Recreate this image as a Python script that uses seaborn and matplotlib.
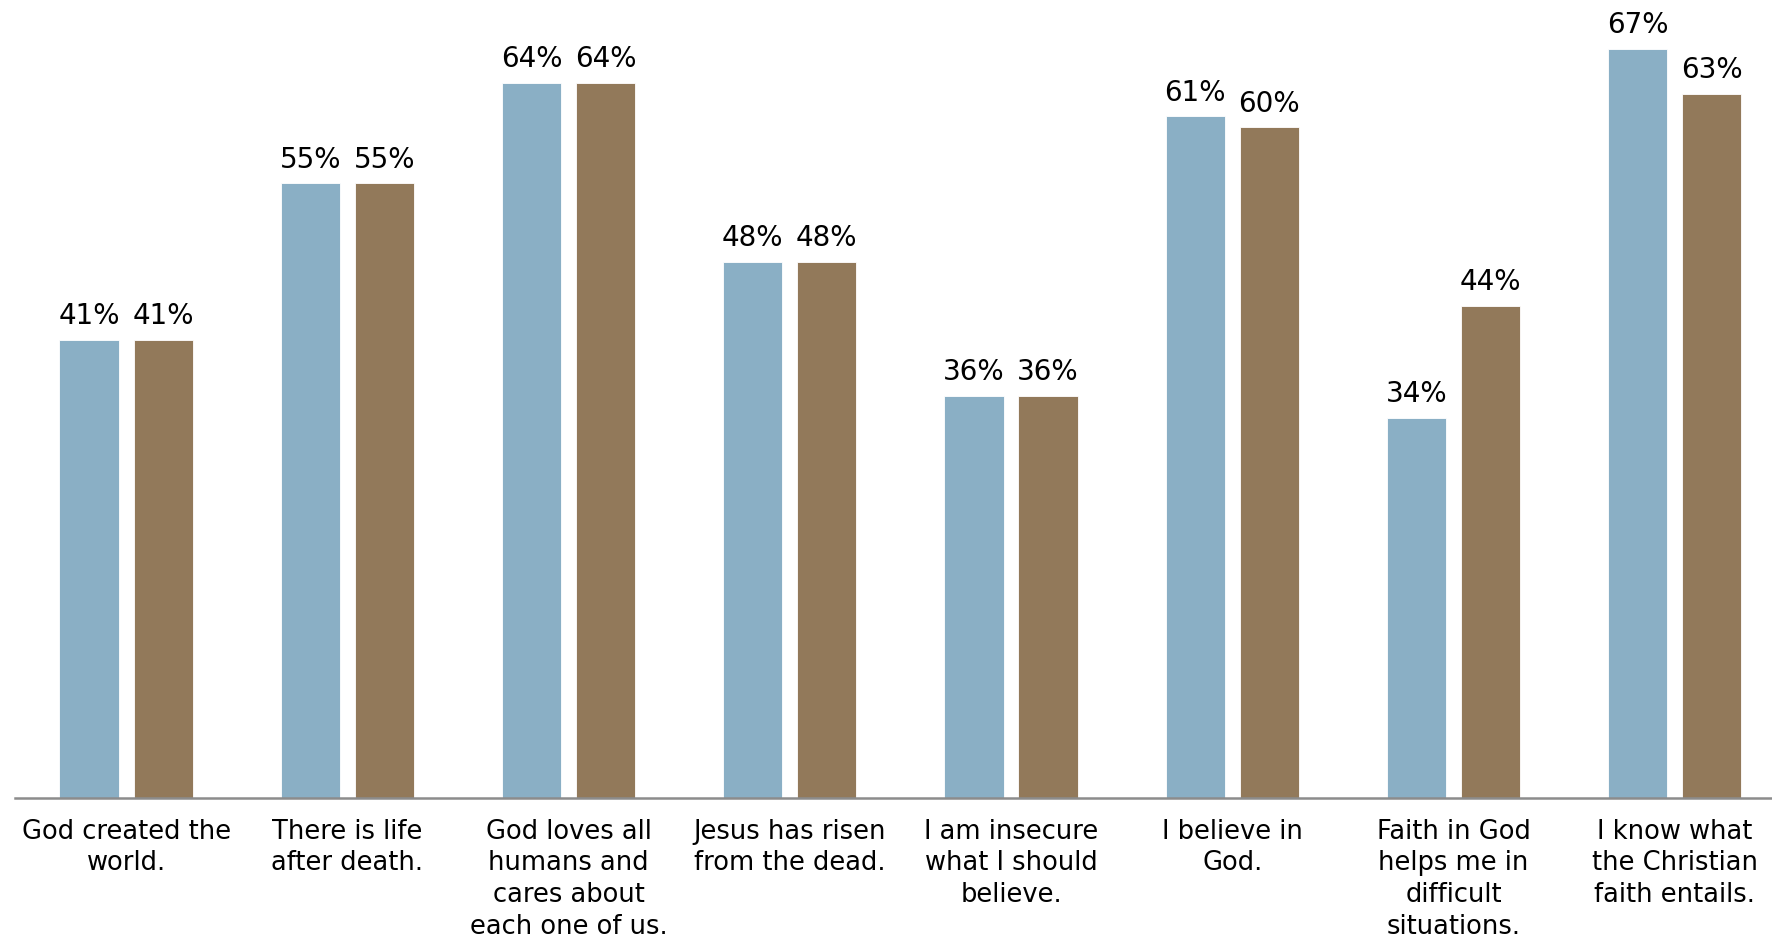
import pandas as pd
import matplotlib
matplotlib.use("Agg")
import matplotlib.pyplot as plt
import seaborn as sns

# --- Daten ---
statements = [
    "God created the\nworld.",
    "There is life\nafter death.",
    "God loves all\nhumans and\ncares about\neach one of us.",
    "Jesus has risen\nfrom the dead.",
    "I am insecure\nwhat I should\nbelieve.",
    "I believe in\nGod.",
    "Faith in God\nhelps me in\ndifficult\nsituations.",
    "I know what\nthe Christian\nfaith entails.",
]
series_names = ["Group A", "Group B"]
values_a = [41, 55, 64, 48, 36, 61, 34, 67]
values_b = [41, 55, 64, 48, 36, 60, 44, 63]

BLUE = "#8AAFC5"
BROWN = "#92795A"

sns.set_theme(style="white")
plt.rcParams["font.family"] = ["DejaVu Sans"]

df = pd.DataFrame({
    "statement": statements * 2,
    "group": [series_names[0]] * len(values_a) + [series_names[1]] * len(values_b),
    "share": values_a + values_b,
})

fig = plt.figure(figsize=(17.72, 9.44), dpi=100)
ax = fig.add_axes([0.0085, 0.1547, 0.9915, 0.8453])

sns.barplot(
    data=df, x="statement", y="share", hue="group", order=statements,
    hue_order=series_names, palette=[BLUE, BROWN], width=0.67, gap=0.2,
    saturation=1, edgecolor="white", linewidth=0.6, legend=False, ax=ax,
)

for cont in ax.containers:
    ax.bar_label(cont, fmt="%d%%", padding=7, fontsize=20, color="black")

ax.set_xlim(-0.502, 7.44)
ax.set_ylim(0, 71.4)
ax.set_xlabel("")
ax.set_ylabel("")
ax.set_yticks([])
ax.tick_params(axis="x", length=0, pad=15, labelsize=18.5, colors="black")
for lbl in ax.get_xticklabels():
    lbl.set_linespacing(1.28)
    lbl.set_verticalalignment("top")

for side in ["top", "right", "left"]:
    ax.spines[side].set_visible(False)
ax.spines["bottom"].set_color("#8c8c8c")
ax.spines["bottom"].set_linewidth(1.8)

fig.savefig("out.png", dpi=100, facecolor="white")
